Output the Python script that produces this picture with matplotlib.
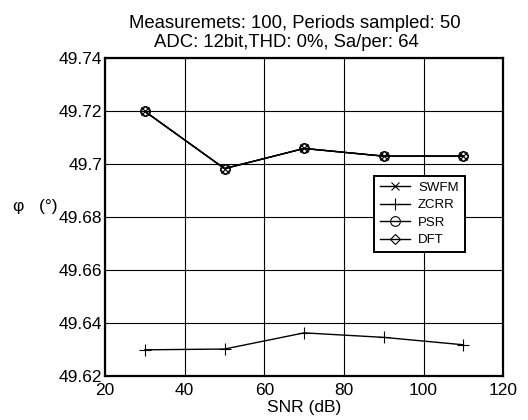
import numpy as np
import matplotlib
matplotlib.use("Agg")
import matplotlib.pyplot as plt

plt.rcParams['font.family'] = ['Liberation Sans', 'DejaVu Sans']

snr = [30, 50, 70, 90, 110]
swfm = [49.720, 49.6984, 49.7060, 49.7031, 49.7031]
zcrr = [49.6300, 49.6303, 49.6364, 49.6347, 49.6319]
psr = [49.720, 49.6984, 49.7060, 49.7031, 49.7031]
dft = [49.720, 49.6984, 49.7060, 49.7031, 49.7031]

fig = plt.figure(figsize=(5.28, 4.2), dpi=100)
ax = fig.add_axes([0.199, 0.104, 0.754, 0.757])

ax.plot(snr, swfm, 'k-x', lw=1, ms=6, mew=0.8, label='SWFM')
ax.plot(snr, zcrr, 'k-+', lw=1, ms=8, mew=0.8, label='ZCRR')
ax.plot(snr, psr, 'k-o', lw=1, ms=7, mew=0.8, mfc='none', label='PSR')
ax.plot(snr, dft, 'k-D', lw=1, ms=5.5, mew=0.8, mfc='none', label='DFT')

ax.set_xlim(20, 120)
ax.set_ylim(49.62, 49.74)
ax.set_xticks([20, 40, 60, 80, 100, 120])
yt = [49.62, 49.64, 49.66, 49.68, 49.7, 49.72, 49.74]
ax.set_yticks(yt)
ax.set_yticklabels(['%g' % v for v in yt])
ax.grid(True, color='k', lw=0.8, ls='-')
ax.tick_params(direction='in', labelsize=12.5, colors='k', length=0)
ax.tick_params(axis='x', pad=5)
ax.tick_params(axis='y', pad=2)
for s in ax.spines.values():
    s.set_linewidth(1.6)

ax.set_xlabel('SNR (dB)', fontsize=12.5, labelpad=1)
ax.set_ylabel('φ   (°)', fontsize=12.5, rotation=0, va='center', ha='center')
ax.yaxis.set_label_coords(-0.175, 0.535)

fig.text(0.559, 0.933, 'Measuremets: 100, Periods sampled: 50',
         fontsize=13.3, ha='center', va='baseline')
fig.text(0.543, 0.888, 'ADC: 12bit,THD: 0%, Sa/per: 64',
         fontsize=13.3, ha='center', va='baseline')

leg = ax.legend(loc='center', bbox_to_anchor=(0.789, 0.511), fontsize=9.5,
                frameon=True, fancybox=False, edgecolor='k', framealpha=1,
                handlelength=2.3, handletextpad=0.6, borderpad=0.45,
                labelspacing=0.4)
leg.get_frame().set_linewidth(1.4)

fig.savefig('out.png', dpi=100)
